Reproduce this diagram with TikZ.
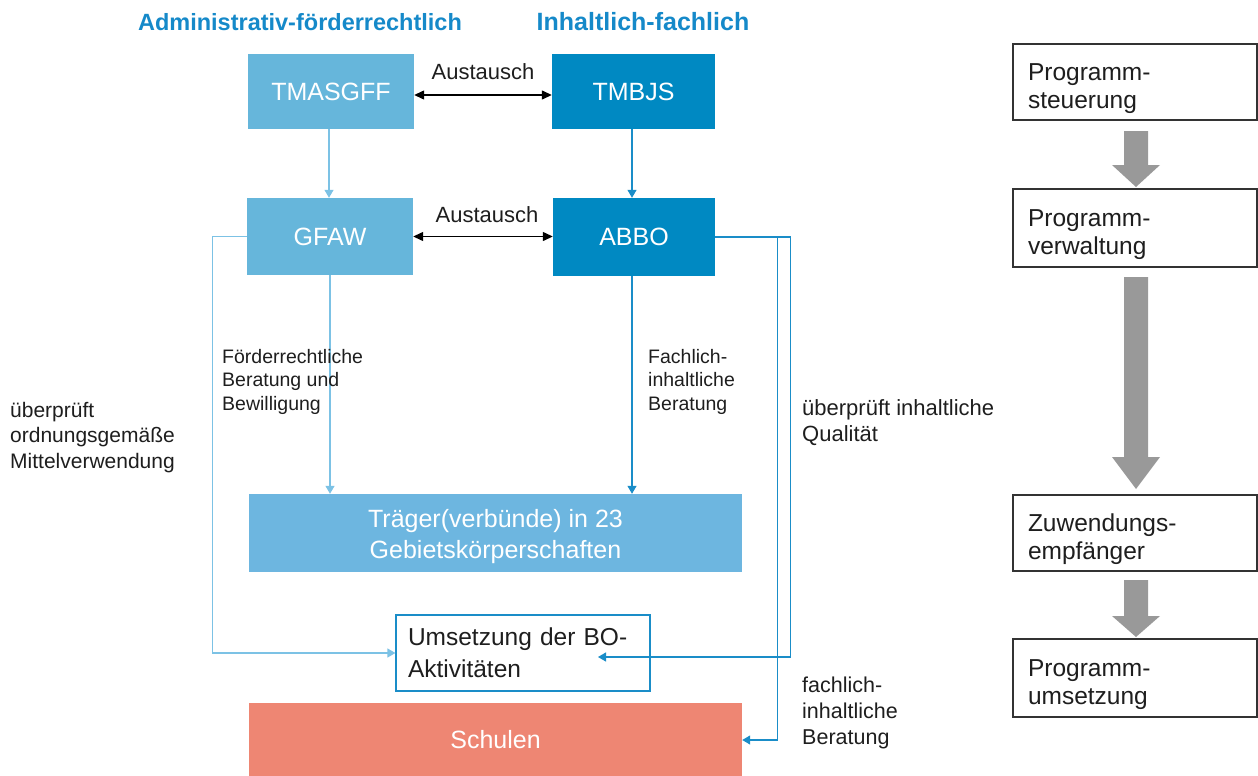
\documentclass[tikz,border=0pt]{standalone}
\usepackage{fontspec}
\setmainfont{Liberation Sans}
\usetikzlibrary{arrows.meta}
\definecolor{lightbox}{HTML}{66B6DB}
\definecolor{darkbox}{HTML}{0089C2}
\definecolor{traeger}{HTML}{6DB6E0}
\definecolor{schulen}{HTML}{EE8673}
\definecolor{headblue}{HTML}{1589C9}
\definecolor{lightline}{HTML}{7CC2E5}
\definecolor{darkline}{HTML}{1A8DC8}
\definecolor{txt}{HTML}{1E1E1E}
\definecolor{grayarrow}{HTML}{999999}
\definecolor{frame}{HTML}{333333}
\begin{document}
\begin{tikzpicture}[x=1pt,y=-1pt,
  box/.style={draw=none, inner sep=0pt, text=white, align=center,
    font=\fontsize{25}{31}\selectfont},
  stage/.style={draw=frame, line width=1.5pt, fill=white, text=txt, inner xsep=14pt,
    inner ysep=0pt, align=left, text width=214pt, minimum width=244pt,
    font=\fontsize{24.5}{28}\selectfont},
  head/.style={text=headblue, inner sep=0pt, font=\fontsize{23.5}{28}\bfseries\selectfont},
  lbl/.style={text=txt, inner sep=0pt, align=left, font=\fontsize{19.5}{23.5}\selectfont},
  sidelbl/.style={text=txt, inner sep=0pt, align=left, font=\fontsize{21}{25.5}\selectfont},
  lconn/.style={draw=lightline, line width=1.2pt, -{Triangle[width=9pt,length=8pt]}},
  dconn/.style={draw=darkline, line width=1.2pt, -{Triangle[width=9pt,length=8pt]}},
  xchg/.style={draw=black, line width=1.3pt, {Triangle[width=9pt,length=10pt]}-{Triangle[width=9pt,length=10pt]}},
  blockarrow/.style={fill=grayarrow, draw=none}
]
\useasboundingbox (0,0) rectangle (1258,776);

% headers
\node[head, anchor=base] (h1) at (300,31) {Administrativ-förderrechtlich};
\node[head, anchor=base, font=\fontsize{25}{28}\bfseries\selectfont] (h2) at (643,31) {Inhaltlich-fachlich};

% boxes
\node[box, fill=lightbox, minimum width=166pt, minimum height=75pt] (tmasgff) at (331,91.5) {TMASGFF};
\node[box, fill=darkbox, minimum width=163pt, minimum height=75pt] (tmbjs) at (633.5,91.5) {TMBJS};
\node[box, fill=lightbox, minimum width=166pt, minimum height=77pt] (gfaw) at (330,236.5) {GFAW};
\node[box, fill=darkbox, minimum width=162pt, minimum height=78pt] (abbo) at (634,237) {ABBO};
\node[box, fill=traeger, minimum width=493pt, minimum height=78pt] (traeger) at (495.5,533) {\rule{0pt}{25pt}Träger(verbünde) in 23\\Gebietskörperschaften};
\node[draw=darkline, line width=1.2pt, fill=white, text=txt, inner xsep=12pt, inner ysep=0pt,
  text width=230pt, align=left, minimum width=254pt, minimum height=76pt,
  font=\fontsize{24.5}{32}\selectfont] (ums) at (523,653) {Umsetzung der BO-\\Aktivitäten};
\node[box, fill=schulen, minimum width=493pt, minimum height=74pt] (schulen) at (495.5,740) {Schulen};

% exchange arrows
\node[sidelbl, anchor=base, font=\fontsize{22}{26}\selectfont] (aus1) at (483,80) {Austausch};
\node[sidelbl, anchor=base, font=\fontsize{22}{26}\selectfont] (aus2) at (487,222) {Austausch};
\draw[xchg] ([yshift=-3.5pt]tmasgff.east) -- ([yshift=-3.5pt]tmbjs.west);
\draw[xchg] (gfaw.east) -- (gfaw.east -| abbo.west);

% vertical connectors
\draw[lconn] ([xshift=-2pt]tmasgff.south) -- ([xshift=-2pt]tmasgff.south |- gfaw.north);
\draw[dconn] ([xshift=-1.5pt]tmbjs.south) -- ([xshift=-1.5pt]tmbjs.south |- abbo.north);
\draw[lconn] (gfaw.south) -- (gfaw.south |- traeger.north);
\draw[dconn] ([xshift=-2pt]abbo.south) -- ([xshift=-2pt]abbo.south |- traeger.north);

% side routes
\draw[lconn] (gfaw.west) -- ++(-34,0) |- (ums.west);
\coordinate (umsin) at (598,657);
\draw[dconn] (abbo.east) -- ++(75,0) |- (umsin);
\draw[dconn] (abbo.east) -- ++(62,0) |- (schulen.east);

% labels (base anchor = baseline of last line)
\node[lbl, anchor=base west] (l1) at (222,410) {Förderrechtliche\\Beratung und\\Bewilligung};
\node[lbl, anchor=base west] (l2) at (648,410) {Fachlich-\\inhaltliche\\Beratung};
\node[sidelbl, anchor=base west] (l3) at (10,468) {überprüft\\ordnungsgemäße\\Mittelverwendung};
\node[sidelbl, anchor=base west, font=\fontsize{22}{26}\selectfont] (l4) at (802,441) {überprüft inhaltliche\\Qualität};
\node[sidelbl, anchor=base west, font=\fontsize{21.5}{26}\selectfont] (l5) at (802,744) {fachlich-\\inhaltliche\\Beratung};

% right column
\node[stage, minimum height=76pt] (s1) at (1135,82) {\rule{0pt}{31pt}Programm-\\steuerung};
\node[stage, minimum height=78pt] (s2) at (1135,228) {\rule{0pt}{31pt}Programm-\\verwaltung};
\node[stage, minimum height=76pt] (s3) at (1135,533) {\rule{0pt}{31pt}Zuwendungs-\\empfänger};
\node[stage, minimum height=78pt] (s4) at (1135,678) {\rule{0pt}{31pt}Programm-\\umsetzung};

% gray block arrows
\fill[blockarrow] (1124,131) -- (1148,131) -- (1148,165) -- (1160,165) -- (1136,187) -- (1112,165) -- (1124,165) -- cycle;
\fill[blockarrow] (1124,277) -- (1148,277) -- (1148,457) -- (1160,457) -- (1136,489) -- (1112,457) -- (1124,457) -- cycle;
\fill[blockarrow] (1124,580) -- (1148,580) -- (1148,616) -- (1160,616) -- (1136,637) -- (1112,616) -- (1124,616) -- cycle;
\end{tikzpicture}
\end{document}
